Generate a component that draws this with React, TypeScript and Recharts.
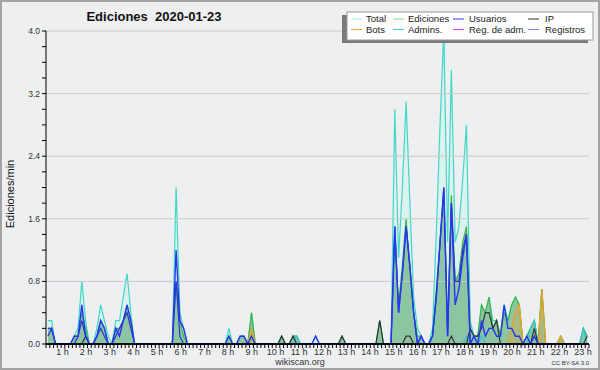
import React from "react";
import { ComposedChart, Area, Line, XAxis, YAxis, ReferenceLine } from "recharts";

// 10-minute bins, 144 per day, values in edits/min
const total = [
  0.3, 0.3, 0, 0, 0, 0,
  0, 0.1, 0.2, 0.8, 0.3, 0,
  0, 0.2, 0.5, 0.3, 0.1, 0,
  0.3, 0.3, 0.6, 0.9, 0.4, 0,
  0, 0, 0, 0, 0, 0,
  0, 0, 0, 0, 2.0, 0.4,
  0.2, 0, 0, 0, 0, 0,
  0, 0, 0, 0, 0, 0,
  0.2, 0, 0, 0.1, 0.1, 0,
  0.4, 0, 0, 0, 0, 0,
  0, 0, 0.1, 0, 0, 0.1,
  0.1, 0, 0, 0, 0, 0.1,
  0, 0, 0, 0, 0, 0,
  0.1, 0, 0, 0, 0, 0,
  0, 0, 0, 0, 0.3, 0,
  0, 0, 3.0, 1.1, 2.0, 3.1,
  1.8, 0.6, 0.2, 0.1, 0, 0,
  0.2, 1.4, 2.8, 4.0, 1.3, 3.5,
  1.3, 1.5, 2.1, 2.8, 0.3, 0.1,
  0.1, 0.5, 0.4, 0.6, 0.3, 0.3,
  0.1, 0.5, 0.3, 0.5, 0.6, 0.5,
  0, 0.1, 0.2, 0.3, 0, 0.7,
  0, 0, 0, 0, 0.1, 0,
  0, 0, 0, 0, 0.2, 0.1,
];

const ediciones = [
  0.2, 0.2, 0, 0, 0, 0,
  0, 0.1, 0.1, 0.4, 0.2, 0,
  0, 0.1, 0.3, 0.2, 0, 0,
  0.2, 0.2, 0.3, 0.5, 0.3, 0,
  0, 0, 0, 0, 0, 0,
  0, 0, 0, 0, 0.8, 0.3,
  0.1, 0, 0, 0, 0, 0,
  0, 0, 0, 0, 0, 0,
  0.1, 0, 0, 0.1, 0.1, 0,
  0.4, 0, 0, 0, 0, 0,
  0, 0, 0.1, 0, 0, 0.1,
  0.1, 0, 0, 0, 0, 0,
  0, 0, 0, 0, 0, 0,
  0.1, 0, 0, 0, 0, 0,
  0, 0, 0, 0, 0.3, 0,
  0, 0, 1.4, 0.5, 1.0, 1.6,
  0.9, 0.4, 0.1, 0.1, 0, 0,
  0.1, 0.7, 1.3, 1.9, 0.2, 1.9,
  0.8, 0.9, 1.3, 1.5, 0.2, 0.1,
  0.1, 0.5, 0.4, 0.6, 0.2, 0.3,
  0.1, 0.4, 0.3, 0.5, 0.6, 0.5,
  0, 0.1, 0.2, 0.3, 0, 0.7,
  0, 0, 0, 0, 0.1, 0,
  0, 0, 0, 0, 0.2, 0.1,
];

const usuarios = [
  0.2, 0.2, 0, 0, 0, 0,
  0, 0.1, 0.1, 0.5, 0.1, 0,
  0, 0.1, 0.3, 0.2, 0, 0,
  0.2, 0.1, 0.3, 0.5, 0.3, 0,
  0, 0, 0, 0, 0, 0,
  0, 0, 0, 0, 1.2, 0.3,
  0.2, 0, 0, 0, 0, 0,
  0, 0, 0, 0, 0, 0,
  0.1, 0, 0, 0.1, 0.1, 0,
  0.1, 0, 0, 0, 0, 0,
  0, 0, 0, 0, 0, 0,
  0, 0, 0, 0, 0, 0.1,
  0, 0, 0, 0, 0, 0,
  0, 0, 0, 0, 0, 0,
  0, 0, 0, 0, 0, 0,
  0, 0, 1.5, 0.4, 0.9, 1.5,
  1.0, 0.4, 0, 0.1, 0, 0,
  0.1, 0.6, 1.3, 2.0, 0.1, 1.8,
  0.5, 0.7, 1.1, 1.4, 0, 0.1,
  0, 0.3, 0.1, 0.2, 0.2, 0.1,
  0.1, 0.5, 0.2, 0.2, 0.1, 0.1,
  0, 0.1, 0, 0.1, 0, 0,
  0, 0, 0, 0, 0, 0,
  0, 0, 0, 0, 0, 0,
];

const registros = [
  0.1, 0.2, 0, 0, 0, 0,
  0, 0, 0.1, 0.3, 0.1, 0,
  0, 0.1, 0.2, 0.1, 0, 0,
  0.1, 0.2, 0.3, 0.4, 0.2, 0,
  0, 0, 0, 0, 0, 0,
  0, 0, 0, 0, 0.8, 0.1,
  0, 0, 0, 0, 0, 0,
  0, 0, 0, 0, 0, 0,
  0, 0, 0, 0, 0, 0,
  0, 0, 0, 0, 0, 0,
  0, 0, 0, 0, 0, 0,
  0, 0, 0, 0, 0, 0,
  0, 0, 0, 0, 0, 0,
  0, 0, 0, 0, 0, 0,
  0, 0, 0, 0, 0, 0,
  0, 0, 1.5, 0.4, 0.9, 1.5,
  1.0, 0.4, 0, 0.1, 0, 0,
  0.1, 0.6, 1.3, 2.0, 0.1, 1.8,
  0.8, 0.8, 1.2, 1.4, 0, 0,
  0, 0, 0, 0, 0, 0,
  0, 0, 0, 0, 0, 0,
  0, 0, 0, 0, 0, 0,
  0, 0, 0, 0, 0, 0,
  0, 0, 0, 0, 0, 0,
];

const ip = [
  0, 0, 0, 0, 0, 0,
  0, 0, 0, 0, 0.1, 0,
  0, 0, 0, 0, 0, 0,
  0, 0, 0, 0, 0, 0,
  0, 0, 0, 0, 0, 0,
  0, 0, 0, 0, 0, 0,
  0, 0, 0, 0, 0, 0,
  0, 0, 0, 0, 0, 0,
  0, 0, 0, 0, 0, 0,
  0, 0, 0, 0, 0, 0,
  0, 0, 0.1, 0, 0, 0.1,
  0, 0, 0, 0, 0, 0,
  0, 0, 0, 0, 0, 0,
  0.1, 0, 0, 0, 0, 0,
  0, 0, 0, 0, 0.3, 0,
  0, 0, 0, 0, 0, 0.1,
  0.1, 0, 0, 0, 0, 0,
  0, 0, 0, 0, 0, 0.1,
  0, 0, 0, 0, 0.2, 0.1,
  0.1, 0.2, 0.4, 0.4, 0.2, 0.3,
  0, 0, 0, 0, 0, 0,
  0, 0, 0, 0.2, 0, 0,
  0, 0, 0, 0, 0, 0,
  0, 0, 0, 0, 0, 0.1,
];

const bots = [
  0, 0, 0, 0, 0, 0,
  0, 0, 0, 0, 0, 0,
  0, 0, 0, 0, 0, 0,
  0, 0, 0, 0, 0, 0,
  0, 0, 0, 0, 0, 0,
  0, 0, 0, 0, 0, 0,
  0, 0, 0, 0, 0, 0,
  0, 0, 0, 0, 0, 0,
  0, 0, 0, 0, 0, 0,
  0.2, 0, 0, 0, 0, 0,
  0, 0, 0, 0, 0, 0,
  0, 0, 0, 0, 0, 0,
  0, 0, 0, 0, 0, 0,
  0, 0, 0, 0, 0, 0,
  0, 0, 0, 0, 0, 0,
  0, 0, 0, 0, 0, 0,
  0, 0, 0, 0, 0, 0,
  0, 0, 0, 0, 0, 0,
  0, 0, 0, 0, 0, 0,
  0, 0, 0, 0, 0, 0,
  0, 0, 0, 0.2, 0.4, 0.5,
  0, 0, 0, 0, 0, 0.7,
  0, 0, 0, 0, 0.1, 0,
  0, 0, 0, 0, 0, 0,
];

const admins = [
  0, 0, 0, 0, 0, 0,
  0, 0, 0, 0, 0, 0,
  0, 0, 0, 0, 0, 0,
  0, 0, 0, 0, 0, 0,
  0, 0, 0, 0, 0, 0,
  0, 0, 0, 0, 0, 0,
  0, 0, 0, 0, 0, 0,
  0, 0, 0, 0, 0, 0,
  0, 0, 0, 0, 0, 0,
  0, 0, 0, 0, 0, 0,
  0, 0, 0, 0, 0, 0,
  0.1, 0, 0, 0, 0, 0,
  0, 0, 0, 0, 0, 0,
  0, 0, 0, 0, 0, 0,
  0, 0, 0, 0, 0, 0,
  0, 0, 0, 0, 0, 0,
  0, 0, 0, 0, 0, 0,
  0, 0, 0, 0, 0, 0,
  0, 0, 0, 0.1, 0, 0,
  0, 0.1, 0, 0, 0, 0,
  0, 0, 0, 0, 0, 0,
  0, 0, 0.2, 0.3, 0, 0,
  0, 0, 0, 0, 0, 0,
  0, 0, 0, 0, 0.2, 0,
];

const hourLabels = [
  "1 h", "2 h", "3 h", "4 h", "5 h", "6 h", "7 h", "8 h", "9 h", "10 h", "11 h", "12 h",
  "13 h", "14 h", "15 h", "16 h", "17 h", "18 h", "19 h", "20 h", "21 h", "22 h", "23 h",
];
const yTicks = [0, 0.2, 0.4, 0.6, 0.8, 1.0, 1.2, 1.4, 1.6, 1.8, 2.0, 2.2, 2.4, 2.6, 2.8, 3.0, 3.2, 3.4, 3.6, 3.8, 4.0];
const yLabelled = [0, 0.8, 1.6, 2.4, 3.2, 4.0];

const legendItems = [
  { name: "Total", color: "#a6e9e1" },
  { name: "Ediciones", color: "#8ad88a" },
  { name: "Usuarios", color: "#3a3ae0" },
  { name: "IP", color: "#333333" },
  { name: "Bots", color: "#f2a43a" },
  { name: "Admins.", color: "#3ec9df" },
  { name: "Reg. de adm.", color: "#c94be0" },
  { name: "Registros", color: "#8585f0" },
];

const data = total.map((v, i) => ({
  x: i + 0.5,
  total: v,
  ediciones: ediciones[i],
  usuarios: usuarios[i],
  registros: registros[i],
  ip: ip[i],
  bots: bots[i],
  admins: admins[i],
}));

const xTicks = Array.from({ length: 145 }, (_, i) => i);
const FONT = "'Liberation Sans', Arial, sans-serif";

function XTick(props: any) {
  const t = props.payload.value;
  if (t % 6 !== 0 || t === 0 || t === 144) return null;
  const h = t / 6;
  // wikiscan spreads its hour labels a little wider than the ticks
  const shift = -7.2 + 1.04 * h;
  return (
    <text x={props.x + shift} y={props.y + 5} textAnchor="middle" fontSize={9} fontFamily={FONT} fill="#333">
      {hourLabels[h - 1]}
    </text>
  );
}

function YTick(props: any) {
  const v = props.payload.value;
  if (!yLabelled.some((l) => Math.abs(l - v) < 1e-6)) return null;
  return (
    <text x={props.x} y={props.y + 3} textAnchor="end" fontSize={8.5} fontFamily={FONT} fill="#333">
      {v.toFixed(1)}
    </text>
  );
}

function Overlay() {
  const colX = [351, 393, 453, 528];
  const textX = [366, 408, 469, 545];
  return (
    <svg width={600} height={370} style={{ position: "absolute", left: 0, top: 0, pointerEvents: "none" }}>
      <rect x={1} y={1} width={598} height={368} fill="none" stroke="#a3a3a3" strokeWidth={2} />
      <text x={154} y={21} textAnchor="middle" fontSize={13} fontWeight="bold" fontFamily={FONT} fill="#111">
        Ediciones{"\u00a0\u00a0"}2020-01-23
      </text>
      <text transform="translate(14,194) rotate(-90)" textAnchor="middle" fontSize={11} fontFamily={FONT} fill="#111">
        Ediciones/min
      </text>
      <text x={300} y={365} textAnchor="middle" fontSize={9} fontFamily={FONT} fill="#333">
        wikiscan.org
      </text>
      <text x={589} y={365} textAnchor="end" fontSize={6} fontFamily={FONT} fill="#333">
        CC BY-SA 3.0
      </text>
      <rect x={342} y={15} width={246} height={28} fill="#7a7a7a" />
      <rect x={347} y={12} width={246} height={28} fill="#ffffff" stroke="#9a9a9a" strokeWidth={1} />
      {legendItems.map((it, k) => {
        const col = k % 4;
        const row = Math.floor(k / 4);
        const cy = row === 0 ? 19 : 29.5;
        return (
          <g key={it.name}>
            <line x1={colX[col]} x2={colX[col] + 11} y1={cy} y2={cy} stroke={it.color} strokeWidth={1} />
            <text x={textX[col]} y={cy + 3.3} fontSize={9.5} fontFamily={FONT} fill="#222">
              {it.name}
            </text>
          </g>
        );
      })}
    </svg>
  );
}

export default function App() {
  return (
    <div style={{ position: "absolute", left: 0, top: 0, width: 600, height: 370, background: "#eeeff1" }}>
      <ComposedChart width={600} height={370} data={data} margin={{ top: 31, right: 11, bottom: 0, left: 6 }}>
        {yLabelled.slice(1).map((v) => (
          <ReferenceLine key={v} y={v} stroke="#c9c9cb" strokeWidth={1} />
        ))}
        <XAxis
          type="number"
          dataKey="x"
          domain={[0, 144]}
          ticks={xTicks}
          interval={0}
          tick={<XTick />}
          tickSize={4}
          height={26}
          axisLine={{ stroke: "#000" }}
          tickLine={{ stroke: "#000" }}
        />
        <YAxis
          type="number"
          domain={[0, 4]}
          ticks={yTicks}
          interval={0}
          tick={<YTick />}
          tickSize={4}
          width={40}
          axisLine={{ stroke: "#000" }}
          tickLine={{ stroke: "#000" }}
        />
        <Area type="linear" dataKey="total" stroke="#3fd8c6" strokeWidth={1.2} fill="#d8f2ec" fillOpacity={0.85} isAnimationActive={false} />
        <Area type="linear" dataKey="ediciones" stroke="#3bb54a" strokeWidth={1.2} fill="#8cc5a1" fillOpacity={1} isAnimationActive={false} />
        <Area type="linear" dataKey="bots" stroke="#f0a020" strokeWidth={1.2} fill="#e9a640" fillOpacity={0.35} isAnimationActive={false} />
        <Line type="linear" dataKey="admins" stroke="#33c3df" strokeWidth={1.2} dot={false} isAnimationActive={false} />
        <Line type="linear" dataKey="ip" stroke="#333333" strokeWidth={1.2} dot={false} isAnimationActive={false} />
        <Line type="linear" dataKey="registros" stroke="#3030cc" strokeWidth={1.2} dot={false} isAnimationActive={false} />
        <Line type="linear" dataKey="usuarios" stroke="#2536f2" strokeWidth={1.4} dot={false} isAnimationActive={false} />
        <ReferenceLine y={0} stroke="#000" strokeWidth={1.5} />
      </ComposedChart>
      <Overlay />
    </div>
  );
}
